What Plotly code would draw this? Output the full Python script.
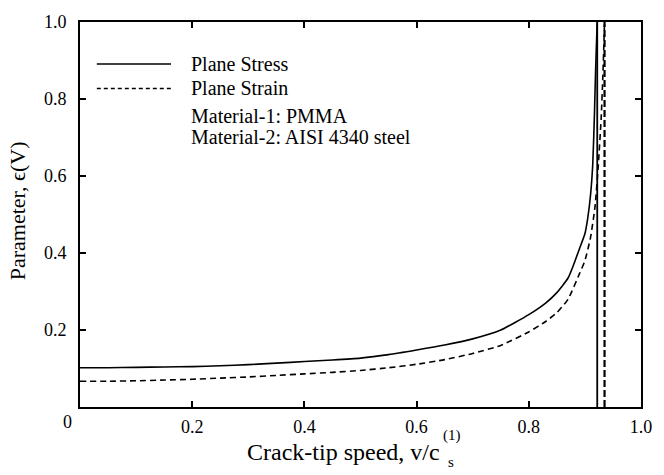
import plotly.graph_objects as go

# Data
x_stress = [0, 0.05, 0.1, 0.15, 0.2, 0.25, 0.3, 0.35, 0.4, 0.45, 0.5, 0.55, 0.6, 0.65, 0.7,
            0.75, 0.8, 0.83, 0.85, 0.87, 0.88, 0.89, 0.9, 0.905, 0.91, 0.914, 0.917, 0.919, 0.921, 0.922]
y_stress = [0.102, 0.102, 0.103, 0.104, 0.105, 0.107, 0.110, 0.114, 0.118, 0.122, 0.127, 0.136, 0.148,
            0.161, 0.177, 0.200, 0.240, 0.270, 0.297, 0.335, 0.37, 0.41, 0.45, 0.49, 0.55, 0.63, 0.76,
            0.87, 0.96, 1.0]

x_strain = [0, 0.05, 0.1, 0.15, 0.2, 0.25, 0.3, 0.35, 0.4, 0.45, 0.5, 0.55, 0.6, 0.65, 0.7,
            0.75, 0.8, 0.83, 0.85, 0.87, 0.89, 0.9, 0.91, 0.918, 0.924, 0.929, 0.932, 0.934, 0.935]
y_strain = [0.067, 0.067, 0.068, 0.070, 0.072, 0.075, 0.078, 0.082, 0.086, 0.090, 0.095, 0.102, 0.111,
            0.123, 0.139, 0.160, 0.195, 0.222, 0.245, 0.28, 0.345, 0.38, 0.44, 0.52, 0.63, 0.75,
            0.86, 0.95, 1.0]

asym_stress = 0.922
asym_strain = 0.935
asym_y = [0, 1.0]

x_tickvals = [0.2, 0.4, 0.6, 0.8, 1.0]
x_ticktext = ["0.2", "0.4", "0.6", "0.8", "1.0"]
x_origin_label = "0"
y_tickvals = [0.2, 0.4, 0.6, 0.8, 1.0]
y_ticktext = ["0.2", "0.4", "0.6", "0.8", "1.0"]

legend_labels = ["Plane Stress", "Plane Strain"]
note_lines = ["Material-1: PMMA", "Material-2: AISI 4340 steel"]

FONT = "Liberation Serif, Times New Roman, serif"
W, H = 664, 475
ML, MR, MT, MB = 80, 17, 13, 68
PW = W - ML - MR
PH = H - MT - MB

def px(p):
    return (p - ML) / PW

def py(p):
    return (H - MB - p) / PH

fig = go.Figure()
fig.add_trace(go.Scatter(x=x_stress, y=y_stress, mode="lines",
                         line=dict(color="black", width=1.6, shape="spline", smoothing=0.5),
                         showlegend=False))
fig.add_trace(go.Scatter(x=x_strain, y=y_strain, mode="lines",
                         line=dict(color="black", width=1.6, dash="6px,4px", shape="spline", smoothing=0.5),
                         showlegend=False))
fig.add_trace(go.Scatter(x=[asym_stress, asym_stress], y=asym_y, mode="lines",
                         line=dict(color="black", width=1.8), showlegend=False))
fig.add_trace(go.Scatter(x=[asym_strain, asym_strain], y=asym_y, mode="lines",
                         line=dict(color="black", width=2.2, dash="7px,3px"), showlegend=False))

# legend samples
leg_y = [56, 81]
fig.add_shape(type="line", xref="paper", yref="paper", x0=px(97), x1=px(172),
              y0=py(leg_y[0]), y1=py(leg_y[0]), line=dict(color="black", width=1.6))
fig.add_shape(type="line", xref="paper", yref="paper", x0=px(97), x1=px(172),
              y0=py(leg_y[1]), y1=py(leg_y[1]), line=dict(color="black", width=1.4, dash="4px,3px"))
for lbl, yy in zip(legend_labels, leg_y):
    fig.add_annotation(text=lbl, xref="paper", yref="paper", x=px(190), y=py(yy),
                       xanchor="left", yanchor="middle", showarrow=False,
                       font=dict(family=FONT, size=20, color="black"))
for lbl, yy in zip(note_lines, [109, 131]):
    fig.add_annotation(text=lbl, xref="paper", yref="paper", x=px(190), y=py(yy),
                       xanchor="left", yanchor="middle", showarrow=False,
                       font=dict(family=FONT, size=20, color="black"))

# origin label
fig.add_annotation(text=x_origin_label, xref="paper", yref="paper", x=px(67), y=py(422),
                   xanchor="center", yanchor="middle", showarrow=False,
                   font=dict(family=FONT, size=18, color="black"))

# x-axis title with stacked sub/superscript
fig.add_annotation(text="Crack-tip speed, v/c", xref="paper", yref="paper", x=px(446), y=py(453),
                   xanchor="right", yanchor="middle", showarrow=False,
                   font=dict(family=FONT, size=24, color="black"))
fig.add_annotation(text="(1)", xref="paper", yref="paper", x=px(445), y=py(436),
                   xanchor="left", yanchor="middle", showarrow=False,
                   font=dict(family=FONT, size=15, color="black"))
fig.add_annotation(text="s", xref="paper", yref="paper", x=px(450), y=py(463),
                   xanchor="left", yanchor="middle", showarrow=False,
                   font=dict(family=FONT, size=15, color="black"))

# y-axis title
fig.add_annotation(text="Parameter, ϵ(V)", xref="paper", yref="paper", x=px(17), y=py(206),
                   xanchor="center", yanchor="middle", textangle=-90, showarrow=False,
                   font=dict(family=FONT, size=22, color="black"))

axis_common = dict(showline=True, linecolor="black", linewidth=1.8, mirror="ticks",
                   ticks="inside", ticklen=6, tickwidth=1.5, tickcolor="black",
                   showgrid=False, zeroline=False,
                   tickfont=dict(family=FONT, size=18, color="black"))

fig.update_layout(
    width=W, height=H,
    margin=dict(l=ML, r=MR, t=MT, b=MB),
    paper_bgcolor="white", plot_bgcolor="white",
    xaxis=dict(range=[0, 1.0], tickvals=x_tickvals, ticktext=x_ticktext,
               ticklabelstandoff=2, **axis_common),
    yaxis=dict(range=[0, 1.0], tickvals=y_tickvals, ticktext=y_ticktext,
               ticklabelstandoff=8, **axis_common),
)

fig.write_html("out.html")
